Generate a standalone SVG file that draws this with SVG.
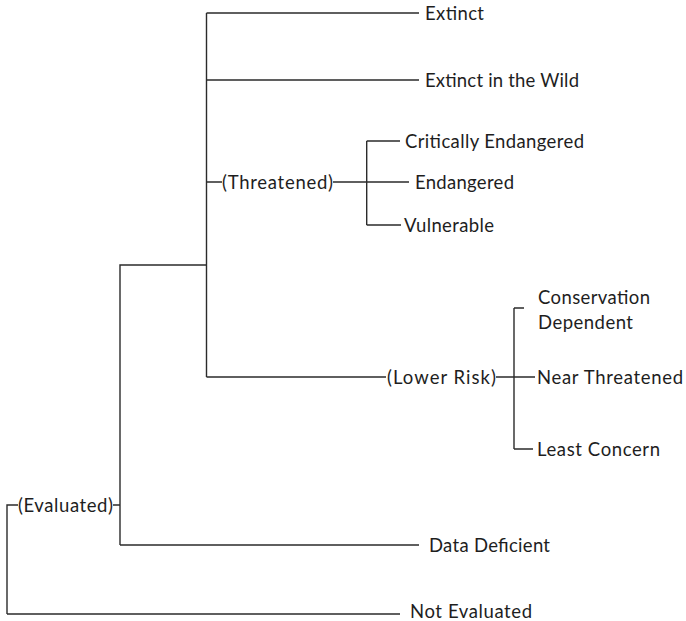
<svg xmlns="http://www.w3.org/2000/svg" width="686" height="621" viewBox="0 0 686 621">
<style>
.c{fill:none;stroke:#2b2b2b;stroke-width:1.4}
text{font-family:Lato,"Open Sans","Liberation Sans",sans-serif;font-size:18.5px;fill:#1e1e1e}
</style>
<rect width="686" height="621" fill="#fff"/>
<g id="connectors">
<path class="c" d="M7,614 V505 H18 M113,505 H120 M120,545 V265 H206.5 M206.5,13 V377"/>
<path class="c" d="M206.5,13 H419 M206.5,80 H419"/>
<path class="c" d="M206.5,182 H222 M333,182 H409 M366.7,141 V225 M366.7,141 H400 M366.7,225 H401"/>
<path class="c" d="M206.5,377 H386 M496,377 H535 M514,308 V449 M514,308 H524 M514,449 H533"/>
<path class="c" d="M120,545 H419 M7,614 H400"/>
</g>
<g id="extinct"><text x="425" y="19.5" textLength="59">Extinct</text></g>
<g id="extinct-wild"><text x="425" y="86.5" textLength="154">Extinct in the Wild</text></g>
<g id="threatened"><text x="222" y="188.5" textLength="111">(Threatened)</text></g>
<g id="critically-endangered"><text x="405" y="147.5" textLength="179">Critically Endangered</text></g>
<g id="endangered"><text x="415" y="188.5" textLength="99">Endangered</text></g>
<g id="vulnerable"><text x="404" y="231.5" textLength="90">Vulnerable</text></g>
<g id="lower-risk"><text x="387" y="383.5" textLength="109">(Lower Risk)</text></g>
<g id="conservation-dependent"><text x="538" y="303.5" textLength="112">Conservation</text><text x="538" y="328.5" textLength="95">Dependent</text></g>
<g id="near-threatened"><text x="537" y="383.5" textLength="146">Near Threatened</text></g>
<g id="least-concern"><text x="537" y="455.5" textLength="123">Least Concern</text></g>
<g id="evaluated"><text x="18" y="511.5" textLength="95">(Evaluated)</text></g>
<g id="data-deficient"><text x="429" y="551.5" textLength="121">Data Deficient</text></g>
<g id="not-evaluated"><text x="410" y="618" textLength="122">Not Evaluated</text></g>
</svg>
